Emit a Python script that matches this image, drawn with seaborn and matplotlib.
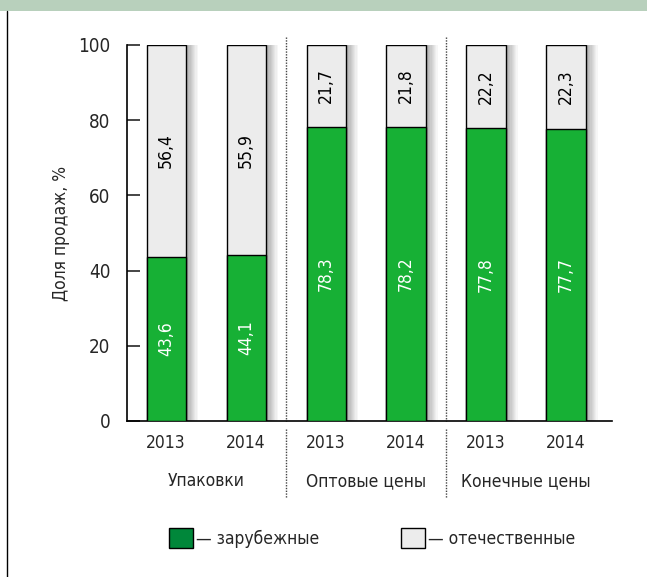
import matplotlib
matplotlib.use('Agg')
import matplotlib.pyplot as plt
import matplotlib.transforms as mtransforms
from matplotlib.patches import Patch, Rectangle
from matplotlib.lines import Line2D
import seaborn as sns
import pandas as pd

years = ['2013', '2014', '2013', '2014', '2013', '2014']
groups = ['Упаковки', 'Оптовые цены', 'Конечные цены']
foreign = [43.6, 44.1, 78.3, 78.2, 77.8, 77.7]
domestic = [56.4, 55.9, 21.7, 21.8, 22.2, 22.3]
legend_labels = ['— зарубежные', '— отечественные']

sns.set_style('white')
plt.rcParams['font.family'] = ['DejaVu Sans']
plt.rcParams['font.stretch'] = 'condensed'

GREEN = '#17b035'
GREEN_LEG = '#00873a'
GREY = '#ececec'
FS = 12.5

df = pd.DataFrame({'pos': [str(i) for i in range(len(years))],
                   'foreign': foreign,
                   'total': [f + d for f, d in zip(foreign, domestic)]})

fig = plt.figure(figsize=(6.47, 5.77), dpi=100)
ax = fig.add_axes([127 / 647, 156 / 577, 485 / 647, 376 / 577])
w = 0.49

# shadows to the right of every bar
for i, t in enumerate(df['total']):
    for k in range(10):
        c = 0.66 + 0.034 * k
        ax.add_patch(Rectangle((i + w / 2 + k * 0.015, 0), 0.015, t + 1.3,
                               facecolor=(c, c, c), edgecolor='none', zorder=1))

sns.barplot(data=df, x='pos', y='total', color=GREY, width=w, saturation=1,
            edgecolor='black', linewidth=1, ax=ax, zorder=2)
sns.barplot(data=df, x='pos', y='foreign', color=GREEN, width=w, saturation=1,
            edgecolor='black', linewidth=1, ax=ax, zorder=3)

for i, (f, d) in enumerate(zip(foreign, domestic)):
    ax.text(i, f / 2, f'{f:.1f}'.replace('.', ','), rotation=90, color='white',
            ha='center', va='center', fontsize=FS, zorder=4)
    ax.text(i, f + d / 2, f'{d:.1f}'.replace('.', ','), rotation=90, color='black',
            ha='center', va='center', fontsize=FS, zorder=4)

ax.set_xlim(-0.49, 5.575)
ax.set_ylim(0, 100)
ax.set_yticks([0, 20, 40, 60, 80, 100])
ax.set_xticks(range(len(years)))
ax.set_xticklabels(years)
ax.set_xticks([0.5, 1.5, 2.5, 3.5, 4.5, 5.575], minor=True)
ax.tick_params(axis='x', which='major', length=0, pad=9, labelsize=FS)
ax.tick_params(axis='x', which='minor', direction='in', length=8, width=1, colors='black')
ax.tick_params(axis='y', direction='in', length=9, width=1.2, pad=12, labelsize=13.5,
               left=True)
ax.set_xlabel('')
ax.set_ylabel('Доля продаж, %', fontsize=FS, labelpad=6)
sns.despine(ax=ax)
for s in ['left', 'bottom']:
    ax.spines[s].set_color('black')
    ax.spines[s].set_linewidth(1.2)

trans = mtransforms.blended_transform_factory(ax.transData, ax.transAxes)
for j, g in enumerate(groups):
    ax.text(2 * j + 0.5, -0.16, g, transform=trans, ha='center', va='center',
            fontsize=FS)
for xb in [1.5, 3.5]:
    ax.add_line(Line2D([xb, xb], [1.022, 0.0], transform=trans, color='#444444',
                       lw=1, ls=(0, (1, 1)), clip_on=False, zorder=0))
    ax.add_line(Line2D([xb, xb], [-0.02, -0.205], transform=trans, color='#444444',
                       lw=1, ls=(0, (1, 1)), clip_on=False, zorder=0))

handles = [Patch(facecolor=GREEN_LEG, edgecolor='black', lw=1),
           Patch(facecolor=GREY, edgecolor='black', lw=1)]
fig.legend(handles, legend_labels, loc='center', bbox_to_anchor=(372 / 647, 1 - 538 / 577),
           ncol=2, frameon=False, fontsize=FS, handlelength=1.4, handleheight=1.4,
           handletextpad=0.15, columnspacing=4.7)

# top banner and left border
fig.patches.append(Rectangle((0, 1 - 11 / 577), 1, 11 / 577, transform=fig.transFigure,
                             facecolor='#b8d0bc', edgecolor='none'))
fig.lines.append(Line2D([7 / 647, 7 / 647], [0, 1 - 11 / 577], transform=fig.transFigure,
                        color='black', lw=1))

fig.savefig('out.png', dpi=100)
